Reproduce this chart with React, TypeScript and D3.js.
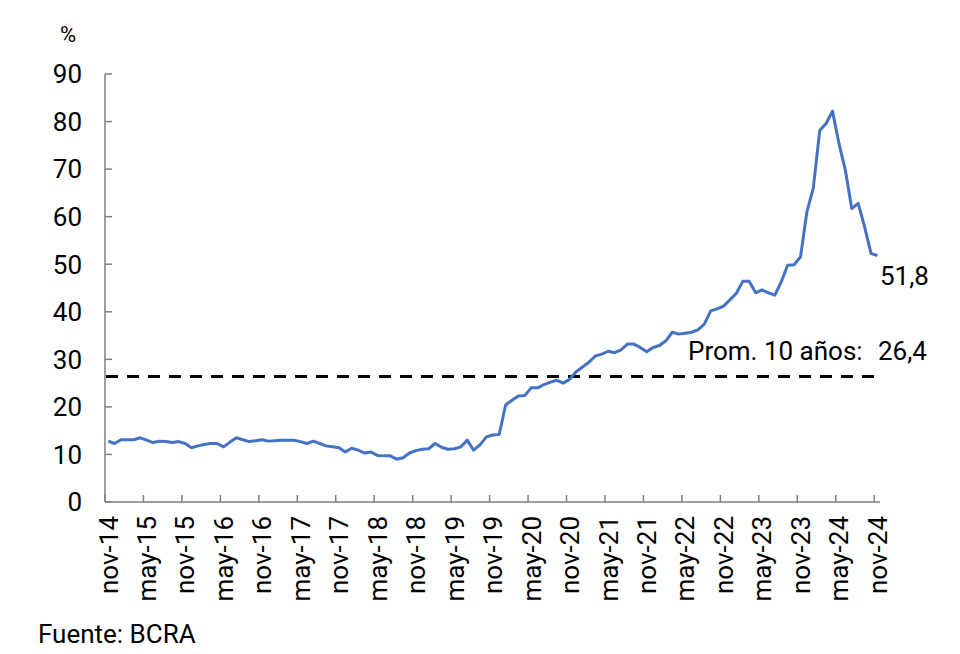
import React from "react";
import * as d3 from "d3";

const months: string[] = (() => {
  const names = ["ene", "feb", "mar", "abr", "may", "jun", "jul", "ago", "sep", "oct", "nov", "dic"];
  const out: string[] = [];
  for (let k = 0; k < 121; k++) {
    const m = (10 + k) % 12;
    const y = 14 + Math.floor((10 + k) / 12);
    out.push(`${names[m]}-${y}`);
  }
  return out;
})();

const values: number[] = [
  12.8, 12.3, 13.1, 13.1, 13.1, 13.5, 13.0, 12.5, 12.8, 12.7,
  12.5, 12.7, 12.3, 11.4, 11.8, 12.1, 12.3, 12.3, 11.6, 12.6,
  13.5, 13.1, 12.7, 12.9, 13.1, 12.8, 12.9, 13.0, 13.0, 13.0,
  12.7, 12.3, 12.8, 12.3, 11.8, 11.6, 11.4, 10.5, 11.3, 10.9,
  10.3, 10.5, 9.8, 9.7, 9.7, 9.0, 9.3, 10.3, 10.8, 11.1,
  11.2, 12.3, 11.5, 11.1, 11.2, 11.6, 13.0, 10.9, 12.0, 13.7,
  14.1, 14.2, 20.4, 21.4, 22.3, 22.4, 24.0, 24.0, 24.7, 25.2,
  25.6, 25.0, 25.8, 27.4, 28.4, 29.4, 30.7, 31.1, 31.7, 31.4,
  32.0, 33.2, 33.2, 32.5, 31.6, 32.5, 32.9, 33.9, 35.7, 35.3,
  35.5, 35.7, 36.2, 37.4, 40.2, 40.6, 41.2, 42.5, 43.9, 46.4,
  46.4, 44.0, 44.6, 44.0, 43.5, 46.3, 49.8, 49.9, 51.5, 61.0,
  66.0, 78.1, 79.6, 82.2, 75.4, 69.8, 61.7, 62.8, 57.9, 52.3,
  51.8,
];

const average = 26.4;
const yTicks: number[] = [0, 10, 20, 30, 40, 50, 60, 70, 80, 90];
const labelEvery = 6;

const FONT = "Roboto, 'Noto Sans', sans-serif";

export default function App() {
  const W = 960;
  const H = 654;
  const x = d3.scaleBand<string>().domain(months).range([105, 880.6]).padding(0);
  const bw = x.bandwidth();
  const y = d3.scaleLinear().domain([0, 90]).range([502, 74]);
  const cx = (m: string) => (x(m) as number) + bw / 2;

  const line = d3
    .line<number>()
    .x((_, i) => cx(months[i]))
    .y((d) => y(d));

  const tickMonths = months.filter((_, i) => i % labelEvery === 0);
  const axisColor = "#7f7f7f";
  const fs = 26;

  return (
    <svg width={W} height={H} style={{ position: "absolute", left: 0, top: 0 }} fontFamily={FONT}>
      <rect x={0} y={0} width={W} height={H} fill="#ffffff" />
      {/* y axis */}
      <line x1={105} x2={105} y1={y(90)} y2={y(0)} stroke={axisColor} strokeWidth={1.5} />
      {yTicks.map((t) => (
        <g key={t}>
          <line x1={105} x2={112} y1={y(t)} y2={y(t)} stroke={axisColor} strokeWidth={1.5} />
          <text x={82} y={y(t)} dy="0.36em" textAnchor="end" fontSize={fs} fill="#000">
            {t}
          </text>
        </g>
      ))}
      <text x={68} y={42} textAnchor="middle" fontSize={22} fill="#000">%</text>
      {/* x axis */}
      <line x1={105} x2={880} y1={y(0)} y2={y(0)} stroke={axisColor} strokeWidth={1.5} />
      {tickMonths.map((m) => (
        <g key={m}>
          <line x1={x(m) as number} x2={x(m) as number} y1={y(0)} y2={y(0) - 7} stroke={axisColor} strokeWidth={1.5} />
          <text
            transform={`translate(${cx(m)},516) rotate(-90)`}
            textAnchor="end"
            dy="0.36em"
            fontSize={fs}
            fill="#000"
          >
            {m}
          </text>
        </g>
      ))}
      {/* average */}
      <line
        x1={106}
        x2={876}
        y1={y(average)}
        y2={y(average)}
        stroke="#000"
        strokeWidth={3}
        strokeDasharray="12,9"
      />
      <text x={688} y={360} fontSize={fs} fill="#000">Prom. 10 años:</text>
      <text x={878} y={360} fontSize={fs} fill="#000">26,4</text>
      {/* series */}
      <path d={line(values) || ""} fill="none" stroke="#4472C4" strokeWidth={3} strokeLinejoin="round" />
      <text x={880} y={285} fontSize={fs} fill="#000">51,8</text>
      <text x={38} y={643} fontSize={fs} fill="#000">Fuente: BCRA</text>
    </svg>
  );
}
